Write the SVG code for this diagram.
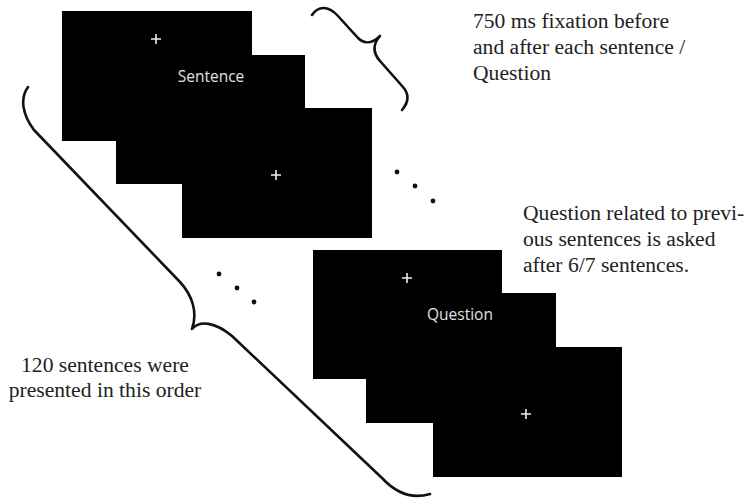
<svg xmlns="http://www.w3.org/2000/svg" width="752" height="499" viewBox="0 0 752 499">
<style>
.scr{fill:#000}
.cross{stroke:#eee;stroke-width:1.6;fill:none}
.lbl{font-family:"Open Sans","DejaVu Sans",sans-serif;font-size:15.5px;fill:#e0e0e0;text-anchor:middle}
.note{font-family:"Liberation Serif","Times New Roman",serif;font-size:21.6px;fill:#222}
.brace{fill:none;stroke:#111;stroke-width:2.6;stroke-linecap:round;stroke-linejoin:round}
.dot{fill:#111}
</style>
<rect width="752" height="499" fill="#fff"/>
<g id="sentence-screens">
  <rect class="scr" x="182" y="108" width="190" height="130"/>
  <rect class="scr" x="116" y="55" width="189" height="129"/>
  <rect class="scr" x="62" y="11" width="190" height="130"/>
  <path class="cross" d="M151,39h10M156,34v10"/>
  <text class="lbl" x="211" y="82">Sentence</text>
  <path class="cross" d="M271,175h10M276,170v10"/>
</g>
<g id="question-screens">
  <rect class="scr" x="433" y="347" width="189" height="130"/>
  <rect class="scr" x="366" y="293" width="190" height="130"/>
  <rect class="scr" x="313" y="250" width="189" height="129"/>
  <path class="cross" d="M402,278h10M407,273v10"/>
  <text class="lbl" x="460" y="320">Question</text>
  <path class="cross" d="M521,414h10M526,409v10"/>
</g>
<g id="dots">
  <circle class="dot" cx="397" cy="172" r="2.4"/>
  <circle class="dot" cx="415" cy="186" r="2.4"/>
  <circle class="dot" cx="433" cy="201" r="2.4"/>
  <circle class="dot" cx="219" cy="274" r="2.4"/>
  <circle class="dot" cx="237" cy="288" r="2.4"/>
  <circle class="dot" cx="254" cy="302" r="2.4"/>
</g>
<g id="connectors">
  <path class="brace" d="M312,15 C318,6 328,5 338,16 L358,38 C364,44 372,44 380,36 C373,44 372,52 380,61 L403,87 C410,95 408,103 402,110"/>
  <path class="brace" d="M28,87 C20,98 22,114 34,130 L180,282 C192,295 198,312 192,329 C200,320 215,322 232,336 L382,478 C395,492 410,500 430,494"/>
</g>
<g id="note-fixation">
  <text class="note" x="473" y="28">750 ms fixation before</text>
  <text class="note" x="473" y="54">and after each sentence /</text>
  <text class="note" x="473" y="80">Question</text>
</g>
<g id="note-question">
  <text class="note" x="523" y="220">Question related to previ-</text>
  <text class="note" x="523" y="246">ous sentences is asked</text>
  <text class="note" x="523" y="272">after 6/7 sentences.</text>
</g>
<g id="note-order">
  <text class="note" x="105" y="372" text-anchor="middle">120 sentences were</text>
  <text class="note" x="105" y="397" text-anchor="middle">presented in this order</text>
</g>
</svg>
